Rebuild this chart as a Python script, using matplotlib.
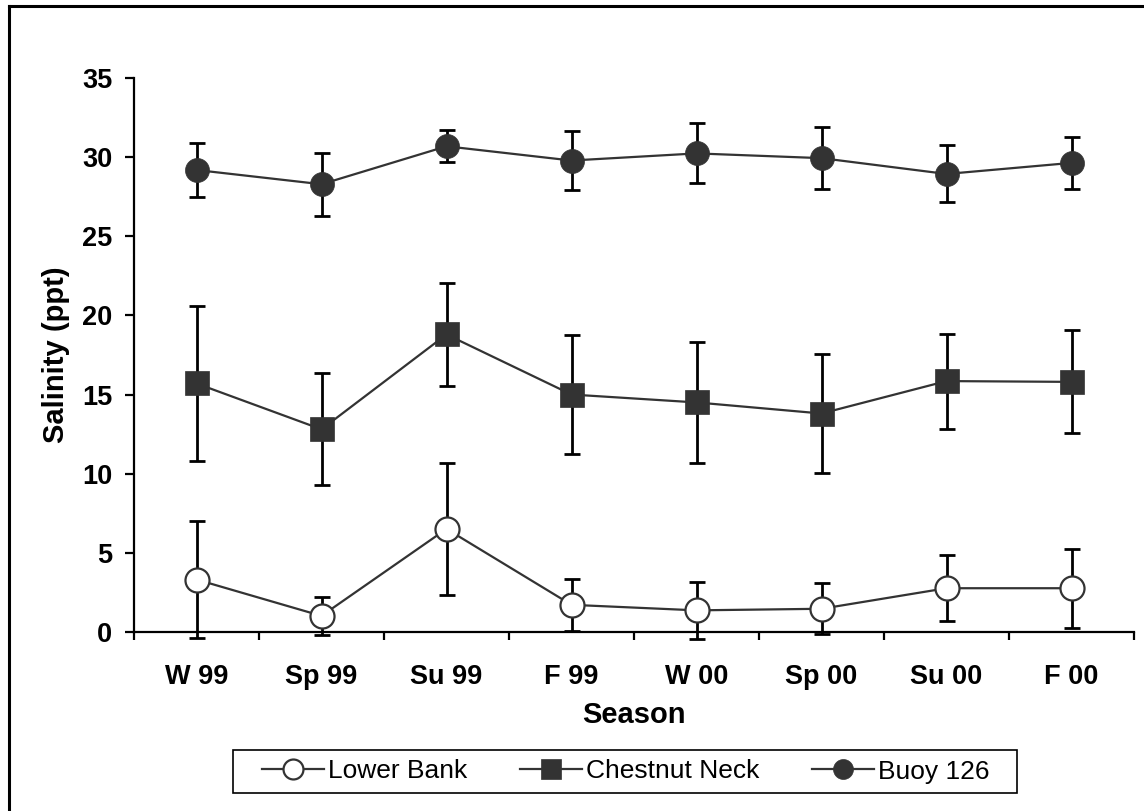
import matplotlib.pyplot as plt
from matplotlib.lines import Line2D
from matplotlib.patches import Rectangle
import numpy as np

plt.rcParams['font.family'] = ['Liberation Sans', 'DejaVu Sans']

# seasonal mean salinity (ppt) with +/- error, three stations
seasons = ['W 99', 'Sp 99', 'Su 99', 'F 99', 'W 00', 'Sp 00', 'Su 00', 'F 00']

lower_bank = [3.3, 1.0, 6.5, 1.7, 1.35, 1.45, 2.75, 2.75]
lower_bank_err = [3.7, 1.2, 4.2, 1.65, 1.8, 1.6, 2.1, 2.5]

chestnut_neck = [15.7, 12.8, 18.8, 15.0, 14.5, 13.8, 15.85, 15.8]
chestnut_neck_err = [4.9, 3.55, 3.25, 3.75, 3.8, 3.75, 3.0, 3.25]

buoy_126 = [29.2, 28.3, 30.7, 29.8, 30.25, 29.95, 28.95, 29.65]
buoy_126_err = [1.7, 2.0, 1.0, 1.85, 1.9, 1.95, 1.8, 1.65]

W, H = 1144, 811
fig = plt.figure(figsize=(W / 100, H / 100), dpi=100)
ax = fig.add_axes([134 / W, 1 - 631.7 / H, 1000 / W, (631.7 - 78.3) / H])

x = np.arange(len(seasons))
grey = '#333333'

series = [
    ('Lower Bank', lower_bank, lower_bank_err, dict(marker='o', mfc='white', mec=grey, mew=1.6)),
    ('Chestnut Neck', chestnut_neck, chestnut_neck_err, dict(marker='s', mfc=grey, mec=grey, mew=0.5)),
    ('Buoy 126', buoy_126, buoy_126_err, dict(marker='o', mfc=grey, mec=grey, mew=0.5)),
]

for name, vals, err, mstyle in series:
    ax.errorbar(x, vals, yerr=err, fmt='none', ecolor='black', elinewidth=2.0,
                capsize=6, capthick=2.0, zorder=2, clip_on=False)
    ax.plot(x, vals, color=grey, lw=1.6, ms=17.3, label=name, zorder=3,
            clip_on=False, **mstyle)

ax.set_xlim(-0.5, len(seasons) - 0.5)
ax.set_ylim(0, 35)
ax.set_yticks(np.arange(0, 36, 5))

# category labels centred, tick marks on the category boundaries
ax.set_xticks(np.arange(-0.5, len(seasons)), labels=[])
ax.set_xticks(x, labels=seasons, minor=True)
ax.tick_params(axis='x', which='minor', length=0, pad=23)
ax.tick_params(axis='x', which='major', length=6, width=1.6, direction='out')
ax.tick_params(axis='y', length=6.5, width=1.6, direction='out', pad=9)

for lbl in ax.get_xticklabels(minor=True) + ax.get_yticklabels():
    lbl.set_fontsize(19.5)
    lbl.set_fontweight('bold')

for side in ['top', 'right']:
    ax.spines[side].set_visible(False)
for side in ['left', 'bottom']:
    ax.spines[side].set_linewidth(1.6)

ax.set_xlabel('Season', fontsize=21, fontweight='bold', labelpad=8)
ax.set_ylabel('Salinity (ppt)', fontsize=21, fontweight='bold', labelpad=9)

# legend entries in one row, with a plain rectangular frame behind them
leg = fig.legend(loc='center', bbox_to_anchor=(626 / W, 1 - 771.5 / H),
                 bbox_transform=fig.transFigure, ncol=3, fontsize=19,
                 handlelength=2.35, handletextpad=0.15, columnspacing=2.0,
                 borderpad=0, markerscale=0.83, frameon=False)
fig.add_artist(Rectangle((233 / W, 1 - 793 / H), 784 / W, 43 / H,
                         transform=fig.transFigure, fill=False,
                         edgecolor='black', lw=1.2, zorder=1))

# outer frame around the chart area
fx, fy = 9 / W, 1 - 6 / H
fig.add_artist(Line2D([fx, fx], [0, fy], color='black', lw=2.2, transform=fig.transFigure))
fig.add_artist(Line2D([fx, 1], [fy, fy], color='black', lw=2.2, transform=fig.transFigure))

fig.savefig('out.png', dpi=100)
